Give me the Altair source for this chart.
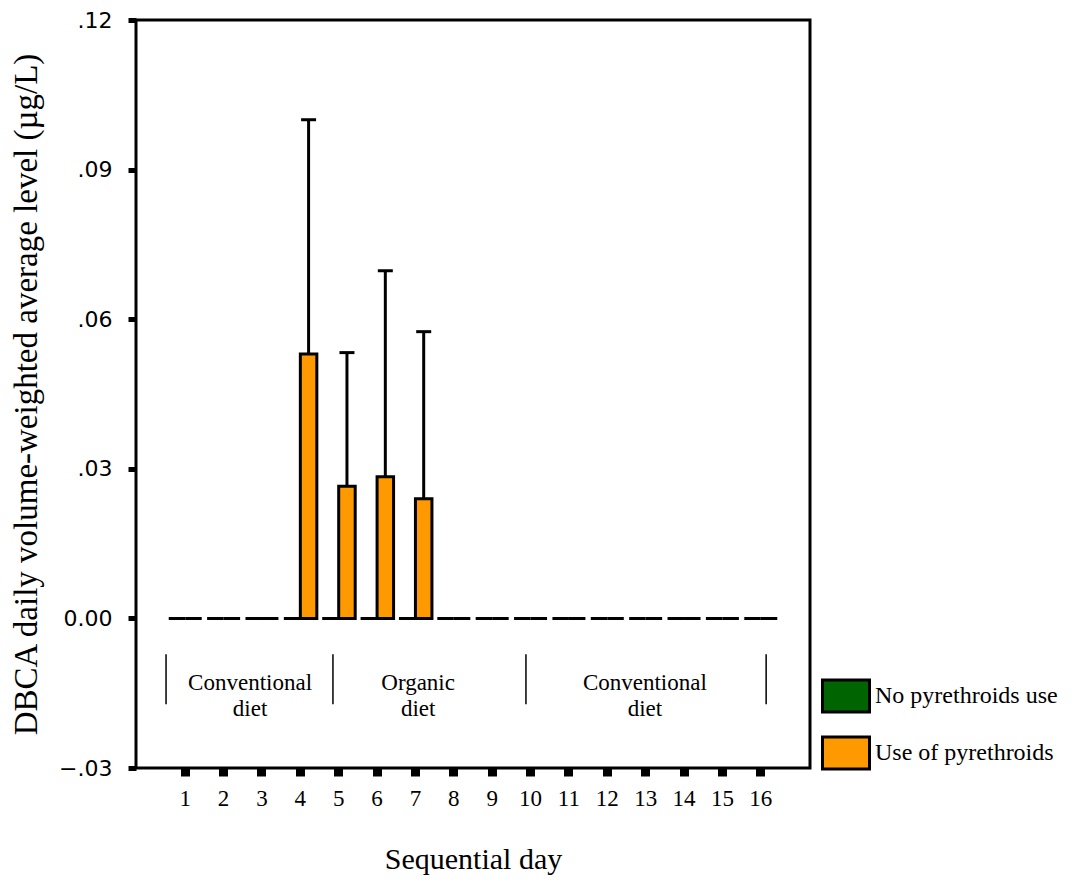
import altair as alt
import pandas as pd

# ---- data ----
days = list(range(1, 17))
groups = ["No pyrethroids use", "Use of pyrethroids"]
no_pyrethroids = [0.0] * 16
use_pyrethroids = [0.0, 0.0, 0.0, 0.053, 0.0265, 0.0284, 0.024, 0.0,
                   0.0, 0.0, 0.0, 0.0, 0.0, 0.0, 0.0, 0.0]
use_upper = [None, None, None, 0.100, 0.0533, 0.0697, 0.0575, None,
             None, None, None, None, None, None, None, None]
colors = ["#006400", "#FF9900"]

y_ticks = [-0.03, 0.0, 0.03, 0.06, 0.09, 0.12]
y_tick_labels = ["\u2212.03", "0.00", ".03", ".06", ".09", ".12"]

diet_labels = ["Conventional\ndiet", "Organic\ndiet", "Conventional\ndiet"]
diet_label_day = [2.69, 7.07, 12.98]
diet_sep_day = [0.5, 4.85, 9.88, 16.14]

# ---- tables ----
rows = []
for d, a, b in zip(days, no_pyrethroids, use_pyrethroids):
    rows.append({"day": d, "group": groups[0], "value": a})
    rows.append({"day": d, "group": groups[1], "value": b})
df = pd.DataFrame(rows)

err_df = pd.DataFrame([
    {"day": d, "group": groups[1], "value": v, "upper": u}
    for d, v, u in zip(days, use_pyrethroids, use_upper) if u is not None
])
lab_df = pd.DataFrame({"pos": diet_label_day, "text": diet_labels})
sep_df = pd.DataFrame({"pos": diet_sep_day})

# ---- scales / layout ----
W, H = 674, 748
p_inner, p_outer = 0.14, 0.853
half = p_outer + (1 - p_inner) / 2
ann_domain = [1 - half, 16 + half]

xscale = alt.Scale(paddingInner=p_inner, paddingOuter=p_outer)
off_scale = alt.Scale(domain=groups, paddingInner=0, paddingOuter=0)
yscale = alt.Scale(domain=[-0.03, 0.12], nice=False, zero=False)

label_expr = " : ".join(
    f"abs(datum.value - ({v})) < 1e-9 ? '{l}'" for v, l in zip(y_ticks, y_tick_labels)
) + " : ''"

yaxis = alt.Axis(values=y_ticks, labelExpr=label_expr, labelFont="DejaVu Sans",
                 labelFontSize=22, labelColor="black", labelPadding=16,
                 tickSize=8, tickWidth=5, tickColor="black", domain=False, grid=False,
                 titleFont="Liberation Serif", titleFontSize=33, titleFontWeight="normal",
                 titleColor="black", titlePadding=15)
xaxis = alt.Axis(labelAngle=0, labelFont="Liberation Serif", labelFontSize=23,
                 labelColor="black", labelPadding=11, tickSize=8, tickWidth=9,
                 tickColor="black", domain=False, grid=False,
                 titleFont="Liberation Serif", titleFontSize=30, titleFontWeight="normal",
                 titleColor="black", titlePadding=34)

legend = alt.Legend(title=None, orient="none", legendX=685, legendY=651,
                    symbolType="M-1,-0.68H1V0.68H-1Z", symbolSize=2209,
                    symbolStrokeColor="black", symbolStrokeWidth=3, symbolOpacity=1,
                    labelFont="Liberation Serif", labelFontSize=24, labelColor="black",
                    labelOffset=4, labelLimit=0, rowPadding=10, padding=0)

bars = alt.Chart(df).mark_bar(stroke="black", strokeWidth=3, opacity=1).encode(
    x=alt.X("day:O", scale=xscale, axis=xaxis, title="Sequential day"),
    xOffset=alt.XOffset("group:N", scale=off_scale, sort=groups),
    y=alt.Y("value:Q", scale=yscale, axis=yaxis,
            title="DBCA daily volume-weighted average level (\u00b5g/L)"),
    color=alt.Color("group:N", scale=alt.Scale(domain=groups, range=colors), legend=legend),
)

err = alt.Chart(err_df).mark_rule(color="black", strokeWidth=3).encode(
    x=alt.X("day:O"),
    xOffset=alt.XOffset("group:N", scale=off_scale),
    y=alt.Y("value:Q"),
    y2="upper:Q",
)
caps = alt.Chart(err_df).mark_tick(color="black", thickness=3, size=15, opacity=1).encode(
    x=alt.X("day:O"),
    xOffset=alt.XOffset("group:N", scale=off_scale),
    y=alt.Y("upper:Q"),
)

ann_scale = alt.Scale(domain=ann_domain, nice=False, zero=False)
labels = alt.Chart(lab_df).mark_text(font="Liberation Serif", fontSize=23, lineBreak="\n",
                                     lineHeight=26, baseline="middle", align="center",
                                     color="black").encode(
    x=alt.X("pos:Q", scale=ann_scale, axis=None),
    y=alt.datum(-0.0130),
    text="text:N",
)
seps = alt.Chart(sep_df).mark_rule(color="black", strokeWidth=1.5).encode(
    x=alt.X("pos:Q", scale=ann_scale, axis=None),
    y=alt.datum(-0.0072),
    y2=alt.datum(-0.0172),
)

chart = alt.layer(
    alt.layer(bars, err, caps),
    alt.layer(seps, labels),
).resolve_scale(x="independent").properties(
    width=W, height=H, background="white",
    autosize=alt.AutoSizeParams(type="none"),
    padding={"left": 128, "top": 12, "right": 261, "bottom": 112},
).configure_view(stroke="black", strokeWidth=3, fill=None)

chart.save("out.html", embed_options={"renderer": "svg", "actions": False})
